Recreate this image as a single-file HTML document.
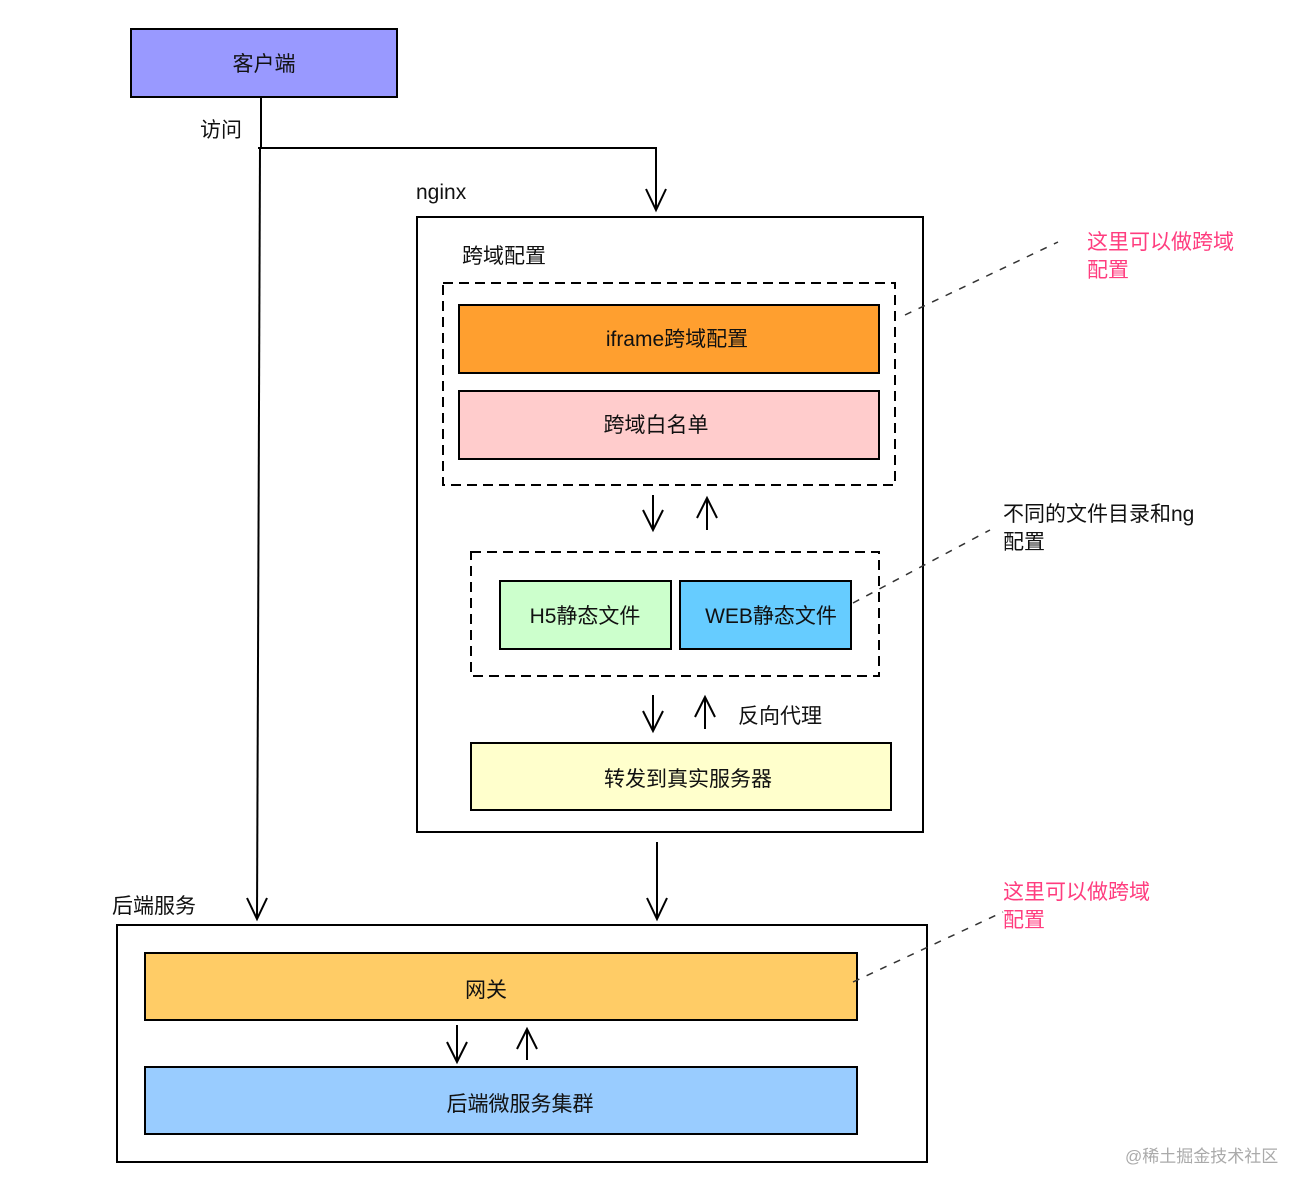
<!DOCTYPE html>
<html><head><meta charset="utf-8"><style>
html,body{margin:0;padding:0;background:#fff;}
svg{display:block;}
text{font-family:"Liberation Sans","Noto Sans CJK SC",sans-serif;}
</style></head><body>
<svg width="1316" height="1196" viewBox="0 0 1316 1196" xmlns="http://www.w3.org/2000/svg">
<defs>
<marker id="a" viewBox="0 0 20 20" refX="10" refY="19" markerWidth="20" markerHeight="20" markerUnits="userSpaceOnUse" orient="auto-start-reverse"></marker>
</defs>
<g stroke="#000" stroke-width="2" fill="none">
<!-- client -->
<rect x="131" y="29" width="266" height="68" fill="#9999ff"/>
<polyline points="261,97 261,148 258,148"/>
<line x1="260" y1="148" x2="257" y2="918"/>
<polyline points="247,898 257,919 267,898"/>
<polyline points="261,148 656,148 656,210"/>
<polyline points="646,189 656,210 666,189"/>
<!-- nginx -->
<rect x="417" y="217" width="506" height="615"/>
<rect x="443" y="283" width="452" height="202" stroke-dasharray="10,6"/>
<rect x="459" y="305" width="420" height="68" fill="#ff9f2f"/>
<rect x="459" y="391" width="420" height="68" fill="#ffcccc"/>
<line x1="653" y1="495" x2="653" y2="530"/><polyline points="643,510 653,530 663,510"/>
<line x1="707" y1="530" x2="707" y2="498"/><polyline points="697,518 707,498 717,518"/>
<rect x="471" y="552" width="408" height="124" stroke-dasharray="10,6"/>
<rect x="500" y="581" width="171" height="68" fill="#ccffcc"/>
<rect x="680" y="581" width="171" height="68" fill="#66ccff"/>
<line x1="653" y1="695" x2="653" y2="731"/><polyline points="643,711 653,731 663,711"/>
<line x1="705" y1="729" x2="705" y2="697"/><polyline points="695,717 705,697 715,717"/>
<rect x="471" y="743" width="420" height="67" fill="#ffffcc"/>
<line x1="657" y1="842" x2="657" y2="919"/><polyline points="647,898 657,919 667,898"/>
<!-- backend -->
<rect x="117" y="925" width="810" height="237"/>
<rect x="145" y="953" width="712" height="67" fill="#ffcc66"/>
<line x1="457" y1="1025" x2="457" y2="1062"/><polyline points="447,1042 457,1062 467,1042"/>
<line x1="527" y1="1060" x2="527" y2="1029"/><polyline points="517,1049 527,1029 537,1049"/>
<rect x="145" y="1067" width="712" height="67" fill="#99ccff"/>
</g>
<g stroke="#333" stroke-width="1.5" stroke-dasharray="7,8" fill="none">
<line x1="905" y1="315" x2="1058" y2="242"/>
<line x1="853" y1="603" x2="990" y2="530"/>
<line x1="853" y1="982" x2="1003" y2="912"/>
</g>
<g font-size="21" fill="#111">
<text x="264" y="71" text-anchor="middle">客户端</text>
<text x="200" y="137">访问</text>
<text x="416" y="199">nginx</text>
<text x="462" y="263">跨域配置</text>
<text x="677" y="346" text-anchor="middle">iframe跨域配置</text>
<text x="656" y="432" text-anchor="middle">跨域白名单</text>
<text x="585" y="623" text-anchor="middle">H5静态文件</text>
<text x="771" y="623" text-anchor="middle">WEB静态文件</text>
<text x="738" y="723">反向代理</text>
<text x="688" y="786" text-anchor="middle">转发到真实服务器</text>
<text x="112" y="913">后端服务</text>
<text x="486" y="997" text-anchor="middle">网关</text>
<text x="520" y="1111" text-anchor="middle">后端微服务集群</text>
<text x="1003" y="521">不同的文件目录和ng</text>
<text x="1003" y="549">配置</text>
</g>
<g font-size="21" fill="#ff3d7f">
<text x="1087" y="249">这里可以做跨域</text>
<text x="1087" y="277">配置</text>
<text x="1003" y="899">这里可以做跨域</text>
<text x="1003" y="927">配置</text>
</g>
<text x="1125" y="1162" font-size="17" fill="#aaa">@稀土掘金技术社区</text>
</svg>
</body></html>
